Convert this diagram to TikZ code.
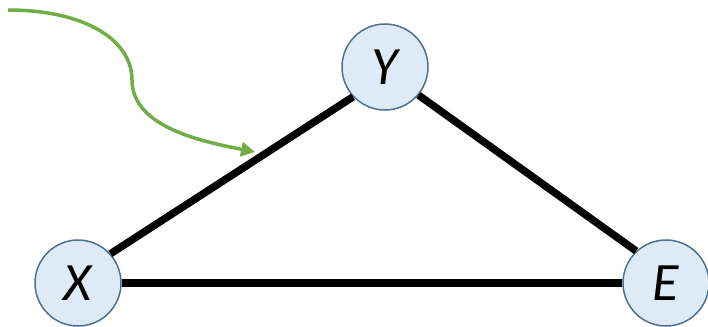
\documentclass[tikz,border=0pt]{standalone}
\usepackage{fontspec}
\setmainfont{Carlito}
\usetikzlibrary{arrows.meta}
\definecolor{nodefill}{HTML}{DEEBF7}
\definecolor{nodeline}{HTML}{4F6F8F}
\definecolor{arrowgreen}{HTML}{70AD47}
\tikzset{
  var/.style={circle,draw=nodeline,fill=nodefill,line width=1.5pt,
    minimum size=86pt,inner sep=0pt,font=\fontsize{54}{58}\selectfont\itshape},
  edge/.style={line width=7.5pt}
}
\begin{document}
\begin{tikzpicture}[x=1pt,y=-1pt]
\useasboundingbox (0,0) rectangle (708,326);

% Variables
\node[var] (X) at (78,283) {X};
\node[var] (Y) at (385,67) {Y};
\node[var] (E) at (666,283) {E};

% Edges
\draw[edge] (X.42) -- (Y.223);
\draw[edge] (Y.320) -- (E.133);
\draw[edge] (X) -- (E);

% Green arrow
\coordinate (src) at (8,10);
\coordinate (tip) at (255,152);
\draw[arrowgreen,line width=3.5pt,-{Triangle[length=14pt,width=14pt]}]
  (src) .. controls (85,10) and (132,40) .. (132,80)
  .. controls (132,128) and (205,142) .. (tip);

\end{tikzpicture}
\end{document}
